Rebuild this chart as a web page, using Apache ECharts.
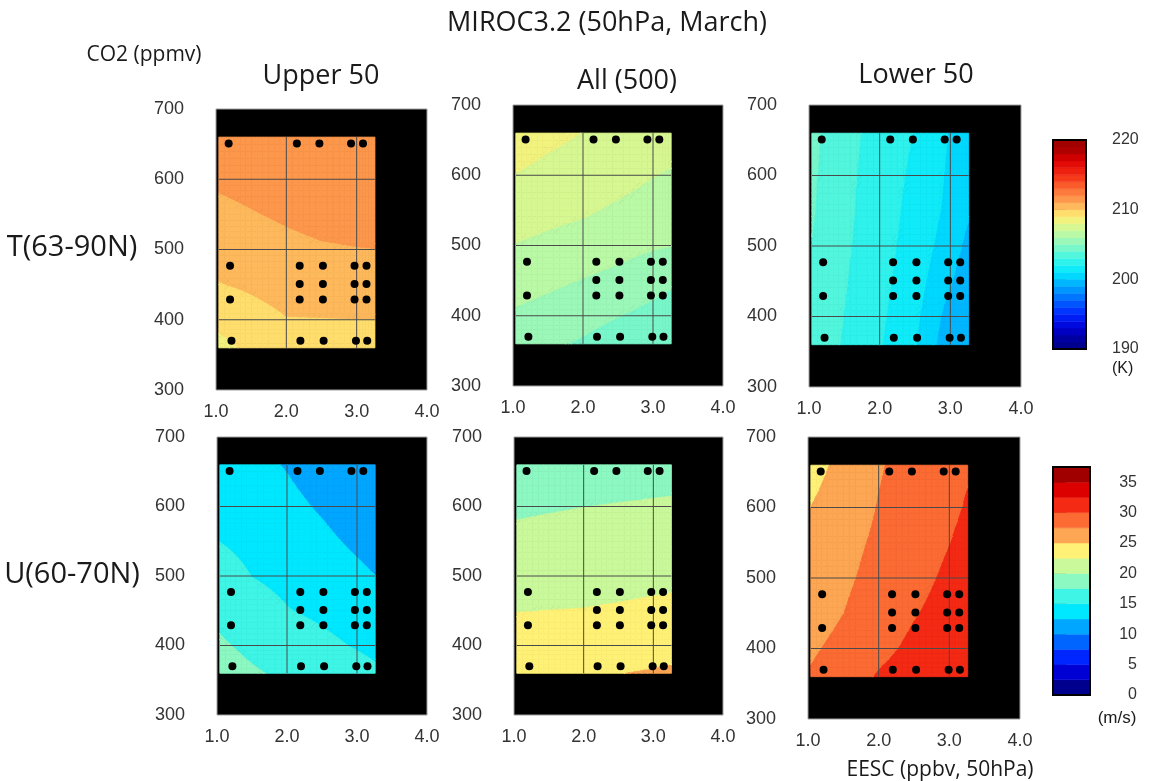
<!DOCTYPE html>
<html>
<head>
<meta charset="utf-8">
<title>MIROC3.2 (50hPa, March)</title>
<script src="https://cdn.jsdelivr.net/npm/echarts@6.0.0/dist/echarts.min.js"></script>
<style>
  html, body { margin: 0; padding: 0; background: #fff; }
  #chart { width: 1154px; height: 781px; }
</style>
</head>
<body>
<div id="chart"></div>
<script>
// response-surface nodes: rows follow co2Grid, columns follow eescGrid
const eescGrid = [1.04, 1.5, 2.0, 2.5, 3.0, 3.26];
const co2Grid = [360, 400, 450, 500, 550, 600, 660];

// T(63-90N), K
const tUpper = [
  [208.7, 209.2, 209.5, 209.55, 209.6, 209.6],
  [209.26, 209.64, 209.96, 209.97, 209.99, 209.99],
  [209.96, 210.14, 210.36, 210.44, 210.48, 210.5],
  [210.37, 210.54, 210.75, 210.9, 210.97, 210.99],
  [210.76, 210.94, 211.13, 211.3, 211.35, 211.4],
  [211.15, 211.3, 211.5, 211.55, 211.6, 211.65],
  [211.6, 211.7, 211.8, 211.8, 211.85, 211.9]
];
const tAll = [
  [205.42, 205.19, 204.87, 204.5, 204.25, 204.1],
  [205.86, 205.64, 205.35, 205.03, 204.7, 204.5],
  [206.41, 206.2, 205.96, 205.71, 205.37, 205.17],
  [206.96, 206.78, 206.58, 206.34, 206.1, 206.02],
  [207.47, 207.28, 207.13, 206.85, 206.57, 206.45],
  [207.97, 207.72, 207.5, 207.35, 207.03, 206.9],
  [208.55, 208.25, 207.98, 207.85, 207.6, 207.45]
];
const tLower = [
  [203.65, 202.9, 202.08, 201.06, 199.3, 199.1],
  [203.72, 202.98, 202.18, 201.24, 199.55, 199.2],
  [203.79, 203.07, 202.29, 201.43, 200.09, 199.3],
  [203.97, 203.16, 202.39, 201.57, 200.5, 199.7],
  [204.09, 203.22, 202.47, 201.67, 200.75, 200.1],
  [204.15, 203.27, 202.5, 201.8, 200.83, 200.45],
  [204.23, 203.35, 202.6, 201.96, 200.92, 200.55]
];

// U(60-70N), m/s
const uUpper = [
  [18.57, 17.78, 17.06, 16.43, 15.8, 15.35],
  [17.82, 16.97, 16.2, 15.52, 14.83, 14.5],
  [16.88, 15.96, 15.1, 14.58, 13.92, 13.5],
  [15.94, 14.97, 14.42, 13.8, 13.0, 12.52],
  [14.98, 14.4, 13.78, 13.02, 12.08, 11.6],
  [14.2, 13.83, 13.13, 12.23, 11.2, 10.9],
  [13.3, 13.15, 12.35, 11.3, 10.3, 10.2]
];
const uAll = [
  [24.15, 24.2, 24.4, 24.95, 25.18, 25.3],
  [23.4, 23.46, 23.6, 23.9, 24.17, 24.29],
  [22.46, 22.52, 22.57, 22.72, 22.93, 23.05],
  [21.52, 21.62, 21.7, 21.82, 21.92, 22.0],
  [20.58, 20.72, 20.84, 20.96, 21.06, 21.1],
  [19.64, 19.82, 19.98, 20.1, 20.2, 20.25],
  [18.5, 18.7, 18.9, 19.05, 19.2, 19.25]
];
const uLower = [
  [27.75, 28.85, 30.2, 31.2, 31.9, 32.4],
  [27.16, 28.21, 29.36, 30.5, 31.3, 31.8],
  [26.38, 27.48, 28.67, 29.85, 30.8, 31.3],
  [26.1, 27.1, 28.2, 29.3, 30.4, 30.9],
  [25.85, 26.8, 27.87, 28.9, 29.96, 30.5],
  [25.02, 26.26, 27.6, 28.6, 29.63, 30.15],
  [24.15, 25.65, 27.3, 28.4, 29.5, 29.82]
];

// model runs (EESC ppbv, CO2 ppmv)
const scenarios = [
  [1.18, 651], [2.15, 651], [2.47, 651], [2.92, 651], [3.09, 651],
  [1.2, 477], [2.19, 477], [2.52, 477], [2.97, 477], [3.14, 477],
  [2.19, 451], [2.52, 451], [2.97, 451], [3.14, 451],
  [1.2, 429], [2.19, 429], [2.52, 429], [2.97, 429], [3.14, 429],
  [1.22, 370], [2.2, 370], [2.53, 370], [2.99, 370], [3.15, 370]
];

const gridLinesEESC = [2, 3];
const gridLinesCO2 = [400, 500, 600];

const tTicks = [190, 200, 210, 220];
const uTicks = [0, 5, 10, 15, 20, 25, 30, 35];

const jetColors = ['#00008f', '#0000d4', '#0026ff', '#0064ff', '#00a6ff', '#00e8ff', '#3ff5e6', '#8cf8c2',
  '#c9f99b', '#fff176', '#fda653', '#fb6b33', '#f42a14', '#dd0000', '#a00000'];

function hex(c) {
  return [1, 3, 5].map(i => parseInt(c.slice(i, i + 2), 16));
}
function jet(f) {
  const n = jetColors.length;
  const x = Math.min(Math.max(f * n - 0.5, 0), n - 1);
  const i = Math.min(Math.floor(x), n - 2), t = x - i;
  const c0 = hex(jetColors[i]), c1 = hex(jetColors[i + 1]);
  return 'rgb(' + c0.map((c, m) => Math.round(c + (c1[m] - c) * t)).join(',') + ')';
}

const tScale = { min: 190, max: 220, step: 1 };
const uScale = { min: 0, max: 37.5, step: 2.5 };
[tScale, uScale].forEach(s => {
  const n = Math.round((s.max - s.min) / s.step);
  s.color = k => jet((k + 0.5) / n);
});

const SUB = 6;

function clipPoly(poly, level, keepAbove) {
  const out = [];
  for (let n = 0; n < poly.length; n++) {
    const P = poly[n], Q = poly[(n + 1) % poly.length];
    const pin = keepAbove ? P[2] >= level : P[2] <= level;
    const qin = keepAbove ? Q[2] >= level : Q[2] <= level;
    if (pin) out.push(P);
    if (pin !== qin) {
      const t = (level - P[2]) / (Q[2] - P[2]);
      out.push([P[0] + (Q[0] - P[0]) * t, P[1] + (Q[1] - P[1]) * t, level]);
    }
  }
  return out;
}

function polyEl(pts, color) {
  return {
    type: 'polygon',
    shape: { points: pts.map(p => [p[0], p[1]]) },
    style: { fill: color, stroke: color, lineWidth: 0.8 }
  };
}

function contourItem(field, scale) {
  return function (params, api) {
    const i = api.value(3), j = api.value(4);
    if (i >= eescGrid.length - 1 || j >= co2Grid.length - 1) return null;
    const a = api.coord([eescGrid[i], co2Grid[j]]);
    const b = api.coord([eescGrid[i + 1], co2Grid[j + 1]]);
    const v00 = field[j][i], v10 = field[j][i + 1], v01 = field[j + 1][i], v11 = field[j + 1][i + 1];
    const pt = (u, w) => [
      a[0] + (b[0] - a[0]) * u,
      a[1] + (b[1] - a[1]) * w,
      v00 * (1 - u) * (1 - w) + v10 * u * (1 - w) + v01 * (1 - u) * w + v11 * u * w
    ];
    const band = v => Math.floor((v - scale.min) / scale.step);
    const children = [];
    for (let s = 0; s < SUB; s++) {
      for (let t = 0; t < SUB; t++) {
        const c = [pt(s / SUB, t / SUB), pt((s + 1) / SUB, t / SUB),
          pt((s + 1) / SUB, (t + 1) / SUB), pt(s / SUB, (t + 1) / SUB)];
        const ks = c.map(p => band(p[2]));
        if (ks.every(k => k === ks[0])) {
          children.push(polyEl(c, scale.color(ks[0])));
          continue;
        }
        [[c[0], c[1], c[2]], [c[0], c[2], c[3]]].forEach(tri => {
          const vs = tri.map(p => p[2]);
          const k0 = band(Math.min(...vs)), k1 = band(Math.max(...vs));
          for (let k = k0; k <= k1; k++) {
            const lo = scale.min + k * scale.step;
            const piece = clipPoly(clipPoly(tri, lo, true), lo + scale.step, false);
            if (piece.length >= 3) children.push(polyEl(piece, scale.color(k)));
          }
        });
      }
    }
    return { type: 'group', children: children };
  };
}

function gridLineItem(params, api) {
  const last = eescGrid.length - 1, lastY = co2Grid.length - 1;
  let p0, p1;
  if (api.value(2) === 0) {
    p0 = api.coord([api.value(0), co2Grid[0]]);
    p1 = api.coord([api.value(0), co2Grid[lastY]]);
  } else {
    p0 = api.coord([eescGrid[0], api.value(1)]);
    p1 = api.coord([eescGrid[last], api.value(1)]);
  }
  return {
    type: 'line',
    shape: { x1: p0[0], y1: p0[1], x2: p1[0], y2: p1[1] },
    style: { stroke: '#4a4a4a', lineWidth: 1 }
  };
}

function colorbarItem(scale) {
  return function (params, api) {
    const p0 = api.coord([0, api.value(2)]);
    const p1 = api.coord([1, api.value(1)]);
    const color = scale.color(api.value(3));
    const children = [{
      type: 'rect',
      shape: { x: p0[0], y: p0[1], width: p1[0] - p0[0], height: p1[1] - p0[1] },
      style: { fill: color, stroke: color, lineWidth: 0.5 }
    }];
    if (params.dataIndex === 0) {
      const q0 = api.coord([0, scale.max]), q1 = api.coord([1, scale.min]);
      children.push({
        type: 'rect', z2: 10,
        shape: { x: q0[0], y: q0[1], width: q1[0] - q0[0], height: q1[1] - q0[1] },
        style: { fill: null, stroke: '#000', lineWidth: 2 }
      });
    }
    return { type: 'group', children: children };
  };
}

const panels = [
  { field: tUpper, scale: tScale, left: 216, top: 109, width: 211, height: 281 },
  { field: tAll, scale: tScale, left: 513, top: 105, width: 210, height: 281 },
  { field: tLower, scale: tScale, left: 809, top: 105, width: 212, height: 282 },
  { field: uUpper, scale: uScale, left: 217, top: 437, width: 210, height: 278 },
  { field: uAll, scale: uScale, left: 514, top: 437, width: 209, height: 278 },
  { field: uLower, scale: uScale, left: 808, top: 437, width: 212, height: 282 }
];

const labelFont = '"Liberation Sans", Arial, sans-serif';
const titleFont = '"Open Sans", sans-serif';

const grid = [], xAxis = [], yAxis = [], series = [];

panels.forEach((p, idx) => {
  grid.push({
    left: p.left, top: p.top, width: p.width, height: p.height,
    show: true, backgroundColor: '#000', borderColor: '#a0a0a0', borderWidth: 1
  });
  xAxis.push({
    gridIndex: idx, type: 'value', min: 1, max: 4, interval: 1,
    axisLine: { show: false }, axisTick: { show: false }, splitLine: { show: false },
    axisLabel: { formatter: v => v.toFixed(1), margin: 13, fontSize: 18, color: '#333', fontFamily: labelFont }
  });
  yAxis.push({
    gridIndex: idx, type: 'value', min: 300, max: 700, interval: 100,
    axisLine: { show: false }, axisTick: { show: false }, splitLine: { show: false },
    axisLabel: { margin: 32, fontSize: 18, color: '#333', fontFamily: labelFont }
  });

  const nodes = [];
  co2Grid.forEach((y, j) => eescGrid.forEach((x, i) => nodes.push([x, y, p.field[j][i], i, j])));
  series.push({
    type: 'custom', xAxisIndex: idx, yAxisIndex: idx, z: 1, silent: true,
    renderItem: contourItem(p.field, p.scale),
    encode: { x: 0, y: 1 },
    data: nodes
  });
  series.push({
    type: 'custom', xAxisIndex: idx, yAxisIndex: idx, z: 2, silent: true,
    renderItem: gridLineItem,
    encode: { x: 0, y: 1 },
    data: gridLinesEESC.map(v => [v, co2Grid[0], 0]).concat(gridLinesCO2.map(v => [eescGrid[0], v, 1]))
  });
  series.push({
    type: 'scatter', xAxisIndex: idx, yAxisIndex: idx, z: 3, silent: true,
    symbol: 'circle', symbolSize: 8,
    itemStyle: { color: '#000', opacity: 1 },
    data: scenarios
  });
});

// colour bars
const bars = [
  { scale: tScale, ticks: tTicks, left: 1053, top: 140, width: 33, height: 209, margin: 26, align: 'left' },
  { scale: uScale, ticks: uTicks, left: 1053, top: 467, width: 37, height: 228, margin: 47, align: 'right' }
];
bars.forEach(b => {
  const idx = grid.length;
  grid.push({ left: b.left, top: b.top, width: b.width, height: b.height });
  xAxis.push({ gridIndex: idx, type: 'value', min: 0, max: 1, show: false });
  yAxis.push({
    gridIndex: idx, type: 'value', position: 'right', min: b.scale.min, max: b.scale.max,
    axisLine: { show: false }, splitLine: { show: false },
    axisTick: { show: true, inside: false, length: 13, customValues: b.ticks, lineStyle: { color: '#000', width: 1.5 } },
    axisLabel: { customValues: b.ticks, margin: b.margin, align: b.align, fontSize: 16, color: '#333', fontFamily: labelFont }
  });
  const bins = [];
  const n = Math.round((b.scale.max - b.scale.min) / b.scale.step);
  for (let k = 0; k < n; k++) {
    bins.push([0.5, b.scale.min + k * b.scale.step, b.scale.min + (k + 1) * b.scale.step, k]);
  }
  series.push({
    type: 'custom', xAxisIndex: idx, yAxisIndex: idx, silent: true,
    renderItem: colorbarItem(b.scale),
    encode: { x: 0, y: [1, 2] },
    data: bins
  });
});

function label(text, x, y, size, family, align) {
  return {
    type: 'text', x: x, y: y, silent: true,
    style: {
      text: text, fill: '#1a1a1a', fontSize: size, fontFamily: family,
      textAlign: align || 'center', textVerticalAlign: 'middle'
    }
  };
}

const graphic = [
  label('MIROC3.2 (50hPa, March)', 607, 23, 27, titleFont),
  label('CO2 (ppmv)', 144, 55, 21, titleFont),
  label('Upper 50', 321, 76, 27, titleFont),
  label('All (500)', 627, 81, 27, titleFont),
  label('Lower 50', 916, 75, 27, titleFont),
  label('T(63-90N)', 72, 248, 29, titleFont),
  label('U(60-70N)', 72, 575, 29, titleFont),
  label('EESC (ppbv, 50hPa)', 940, 770, 21, titleFont),
  label('(K)', 1112, 369, 16, labelFont, 'left'),
  label('(m/s)', 1117, 718, 17, labelFont)
];

const chart = echarts.init(document.getElementById('chart'));
chart.setOption({
  backgroundColor: '#fff',
  animation: false,
  grid: grid,
  xAxis: xAxis,
  yAxis: yAxis,
  series: series,
  graphic: graphic
});
</script>
</body>
</html>
